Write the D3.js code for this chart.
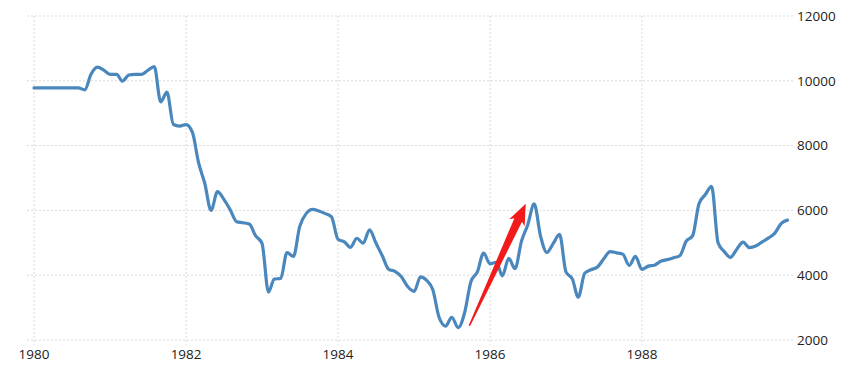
<!DOCTYPE html>
<html>
<head>
<meta charset="utf-8">
<script src="https://cdn.jsdelivr.net/npm/d3@7"></script>
<style>
html,body{margin:0;padding:0;background:#fff;}
svg{display:block;}
text{font-family:"Open Sans","Liberation Sans","DejaVu Sans",sans-serif;font-size:13.5px;fill:#222;}
</style>
</head>
<body>
<svg id="chart" width="865" height="379"></svg>
<script>
// Monthly values, Jan 1980 .. Dec 1989
const startYear = 1980;
const values = [
  9780, 9780, 9780, 9780, 9780, 9780, 9780, 9780, 9720, 10200, 10420, 10330,
  10200, 10200, 9990, 10180, 10200, 10200, 10320, 10440, 9350, 9650, 8650, 8600,
  8650, 8400, 7500, 6830, 6000, 6580, 6350, 6020, 5650, 5620, 5580, 5220,
  4980, 3480, 3880, 3900, 4700, 4580, 5500, 5900, 6030, 5980, 5900, 5800,
  5110, 5030, 4860, 5140, 4990, 5400, 5000, 4600, 4180, 4120, 3950, 3650,
  3500, 3950, 3850, 3550, 2700, 2430, 2700, 2380, 2850, 3800, 4100, 4680,
  4350, 4400, 3980, 4520, 4200, 5050, 5550, 6200, 5200, 4700, 4980, 5260,
  4100, 3880, 3320, 4060, 4170, 4250, 4500, 4730, 4690, 4650, 4300, 4580,
  4180, 4280, 4310, 4430, 4480, 4540, 4600, 5050, 5220, 6200, 6490, 6740,
  5000, 4720, 4550, 4800, 5020, 4850, 4900, 5030, 5150, 5300, 5600, 5700
];
const xTickYears = [1980, 1982, 1984, 1986, 1988];
const yTicks = [2000, 4000, 6000, 8000, 10000, 12000];
// Arrow annotation (date in fractional years, value)
const arrowTail = [1985.728, 2440];
const arrowTip = [1986.47, 6206];

const data = values.map((v, i) => ({date: new Date(startYear + Math.floor(i / 12), i % 12, 1), value: v}));
const yearToDate = y => { const yr = Math.floor(y); const frac = y - yr; const d0 = new Date(yr,0,1), d1 = new Date(yr+1,0,1); return new Date(+d0 + frac*(d1-d0)); };

const svg = d3.select("#chart");
const x = d3.scaleTime().domain([new Date(1980,0,1), new Date(1990,0,1)]).range([34, 794]);
const y = d3.scaleLinear().domain([2000, 12000]).range([340, 16]);

// horizontal grid
svg.append("g").selectAll("line").data(yTicks).join("line")
  .attr("x1", 27).attr("x2", 794)
  .attr("y1", d => y(d)).attr("y2", d => y(d))
  .attr("stroke", "#d9d9d9").attr("stroke-width", 1).attr("stroke-dasharray", "2,2");
// vertical grid
svg.append("g").selectAll("line").data(xTickYears).join("line")
  .attr("x1", d => x(new Date(d,0,1))).attr("x2", d => x(new Date(d,0,1)))
  .attr("y1", 16).attr("y2", 345)
  .attr("stroke", "#d9d9d9").attr("stroke-width", 1).attr("stroke-dasharray", "2,2");

// y labels
svg.append("g").selectAll("text").data(yTicks).join("text")
  .attr("x", 797).attr("y", d => y(d)).attr("dy", "0.36em")
  .text(d => d);
// x labels
svg.append("g").selectAll("text").data(xTickYears).join("text")
  .attr("x", d => x(new Date(d,0,1))).attr("y", 359)
  .attr("text-anchor", "middle")
  .text(d => d);

// line
const line = d3.line().x(d => x(d.date)).y(d => y(d.value)).curve(d3.curveMonotoneX);
svg.append("path").datum(data)
  .attr("fill", "none").attr("stroke", "#4a87bd").attr("stroke-width", 3.2)
  .attr("stroke-linejoin", "round").attr("stroke-linecap", "round")
  .attr("d", line);

// arrow
const tx = x(yearToDate(arrowTail[0])), ty = y(arrowTail[1]);
const hx = x(yearToDate(arrowTip[0])), hy = y(arrowTip[1]);
const L = Math.hypot(hx - tx, hy - ty);
const ux = (hx - tx) / L, uy = (hy - ty) / L;
const px = -uy, py = ux;
const headLen = 21, neckHalf = 4.2, wingHalf = 8.5, tailHalf = 0.8;
const pt = (a, b) => [tx + ux * a + px * b, ty + uy * a + py * b];
const poly = [
  pt(0, -tailHalf), pt(L - headLen + 3, -neckHalf), pt(L - headLen, -wingHalf), pt(L, 0),
  pt(L - headLen, wingHalf), pt(L - headLen + 3, neckHalf), pt(0, tailHalf)
];
svg.append("path")
  .attr("d", "M" + poly.map(p => p.join(",")).join("L") + "Z")
  .attr("fill", "#f21a1a");
</script>
</body>
</html>
